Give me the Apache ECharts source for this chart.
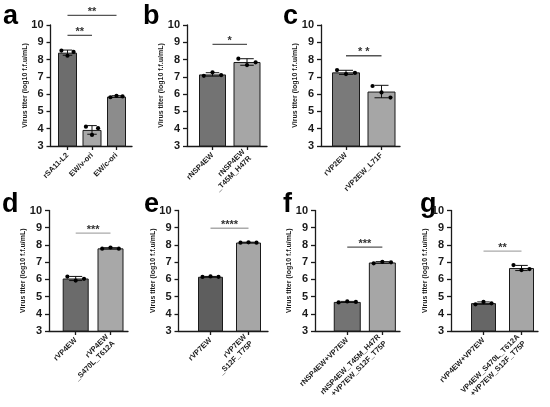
<!DOCTYPE html>
<html><head><meta charset="utf-8">
<script src="https://cdn.jsdelivr.net/npm/echarts/dist/echarts.min.js"></script>
<style>html,body{margin:0;padding:0;background:#fff}#c{width:550px;height:407px}</style>
</head><body><div id="c"></div>
<script>
// ---------- data ----------
const catsA = ['rSA11-L2', 'EW/v-ori', 'EW/c-ori'];
const meanA = [8.40, 3.93, 5.86];
const sdA = [0.15, 0.25, 0.05];
const ptsA = [[8.52, 8.22, 8.44], [4.12, 3.64, 4.03], [5.82, 5.90, 5.87]];
const sigA = [[0, 1, 9.40, '**'], [0, 2, 10.56, '**']];

const catsB = ['rNSP4EW', 'rNSP4EW\n_T45M_H47R'];
const meanB = [7.14, 7.86];
const sdB = [0.10, 0.19];
const ptsB = [[7.06, 7.26, 7.10], [8.05, 7.68, 7.84]];
const sigB = [[0, 1, 8.88, '*']];

const catsC = ['rVP2EW', 'rVP2EW_L71F'];
const meanC = [7.26, 6.15];
const sdC = [0.12, 0.36];
const ptsC = [[7.39, 7.16, 7.23], [6.47, 6.10, 5.80]];
const sigC = [[0, 1, 8.22, '* *']];

const catsD = ['rVP4EW', 'rVP4EW\n_S470L_T612A'];
const meanD = [6.05, 7.80];
const sdD = [0.12, 0.04];
const ptsD = [[6.16, 5.93, 6.03], [7.78, 7.85, 7.78]];
const sigD = [[0, 1, 8.68, '***']];

const catsE = ['rVP7EW', 'rVP7EW\n_S12F_T75P'];
const meanE = [6.15, 8.14];
const sdE = [0.02, 0.02];
const ptsE = [[6.14, 6.17, 6.15], [8.13, 8.15, 8.13]];
const sigE = [[0, 1, 8.97, '****']];

const catsF = ['rNSP4EW+VP7EW', 'rNSP4EW_T45M_H47R\n+VP7EW_S12F_T75P'];
const meanF = [4.69, 6.98];
const sdF = [0.03, 0.05];
const ptsF = [[4.66, 4.72, 4.69], [6.93, 7.02, 6.99]];
const sigF = [[0, 1, 7.87, '***']];

const catsG = ['rVP4EW+VP7EW', 'VP4EW_S470L_T612A\n+VP7EW_S12F_T75P'];
const meanG = [4.62, 6.66];
const sdG = [0.07, 0.15];
const ptsG = [[4.55, 4.69, 4.61], [6.83, 6.54, 6.60]];
const sigG = [[0, 1, 7.64, '**']];

const yTicksMin = 3, yTicksMax = 10, yTickStep = 1;
const yName = 'Virus titer (log10 f.f.u/mL)';

// ---------- layout / style ----------
const FONT = 'Liberation Sans, Arial, sans-serif';
const panels = [
  {L:'a', lx:3,   ly:3.4,   cats:catsA, mean:meanA, sd:sdA, pts:ptsA, sig:sigA, colors:['#6d6d6d','#a8a8a8','#8c8c8c'], sigColor:'#555', axL:50.5, axR:132, inL:55.25, inR:128.75, top:25, bot:146, bw:19},
  {L:'b', lx:143, ly:3.4,   cats:catsB, mean:meanB, sd:sdB, pts:ptsB, sig:sigB, colors:['#737373','#a6a6a6'], sigColor:'#555', axL:187, axR:267, inL:195.25, inR:264.25, top:25, bot:146, bw:27},
  {L:'c', lx:283, ly:3.4,   cats:catsC, mean:meanC, sd:sdC, pts:ptsC, sig:sigC, colors:['#7a7a7a','#a6a6a6'], sigColor:'#555', axL:321, axR:400, inL:328.25, inR:399.25, top:25, bot:146, bw:28},
  {L:'d', lx:2,   ly:191.4, cats:catsD, mean:meanD, sd:sdD, pts:ptsD, sig:sigD, colors:['#6b6b6b','#a8a8a8'], sigColor:'#aaa', axL:49, axR:128, inL:58.3, inR:127.9, top:210.5, bot:331, bw:26},
  {L:'e', lx:144, ly:191.4, cats:catsE, mean:meanE, sd:sdE, pts:ptsE, sig:sigE, colors:['#5e5e5e','#a6a6a6'], sigColor:'#aaa', axL:178.5, axR:268, inL:191.5, inR:267.5, top:210.5, bot:331, bw:25},
  {L:'f', lx:283, ly:191.4, cats:catsF, mean:meanF, sd:sdF, pts:ptsF, sig:sigF, colors:['#737373','#a6a6a6'], sigColor:'#555', axL:315, axR:400, inL:329.7, inR:399.9, top:210.5, bot:331, bw:27},
  {L:'g', lx:420, ly:191.4, cats:catsG, mean:meanG, sd:sdG, pts:ptsG, sig:sigG, colors:['#666666','#a6a6a6'], sigColor:'#aaa', axL:451, axR:538, inL:464.5, inR:540.5, top:210.5, bot:331, bw:25}
];

const grid = [], xAxis = [], yAxis = [], series = [], graphic = [];
const axisColor = '#1a1a1a';

panels.forEach((p, i) => {
  const go = 2 * i, gi = 2 * i + 1;
  grid.push({left:p.axL, top:p.top, width:p.axR - p.axL, height:p.bot - p.top, outerBoundsMode:'none', containLabel:false});
  grid.push({left:p.inL, top:p.top, width:p.inR - p.inL, height:p.bot - p.top, outerBoundsMode:'none', containLabel:false});
  xAxis.push({gridIndex:go, type:'value', min:0, max:1, axisLine:{show:true, lineStyle:{color:axisColor, width:1.3}}, axisTick:{show:false}, axisLabel:{show:false}, splitLine:{show:false}});
  yAxis.push({gridIndex:go, type:'value', min:yTicksMin, max:yTicksMax, interval:yTickStep,
    axisLine:{show:true, lineStyle:{color:axisColor, width:1.3}},
    axisTick:{show:true, length:4, lineStyle:{color:axisColor, width:1.3}},
    axisLabel:{show:true, margin:7, fontSize:11, fontWeight:'bold', color:'#1a1a1a', fontFamily:FONT},
    splitLine:{show:false},
    name:yName, nameLocation:'middle', nameGap:22, nameMoveOverlap:false,
    nameTextStyle:{fontSize:7, fontWeight:'bold', color:'#1a1a1a', fontFamily:FONT}});
  xAxis.push({gridIndex:gi, type:'category', data:p.cats,
    axisLine:{show:false}, axisTick:{show:true, alignWithLabel:true, length:4, lineStyle:{color:axisColor, width:1.3}},
    axisLabel:{interval:0, rotate:45, margin:8, fontSize:7.5, fontWeight:'bold', color:'#1a1a1a', fontFamily:FONT, lineHeight:9},
    splitLine:{show:false}});
  yAxis.push({gridIndex:gi, type:'value', min:yTicksMin, max:yTicksMax, show:false, splitLine:{show:false}});

  series.push({type:'bar', xAxisIndex:gi, yAxisIndex:gi, barWidth:p.bw, z:2, silent:true, animation:false,
    data:p.mean.map((v, k) => ({value:v, itemStyle:{color:p.colors[k]}})),
    itemStyle:{borderColor:'#1a1a1a', borderWidth:1}});

  const bw = p.bw;
  series.push({type:'custom', xAxisIndex:gi, yAxisIndex:gi, z:3, silent:true, animation:false,
    data:p.sd.map((s, k) => [k, p.mean[k] - s, p.mean[k] + s]),
    renderItem:(params, api) => {
      const lo = api.coord([api.value(0), api.value(1)]);
      const hi = api.coord([api.value(0), api.value(2)]);
      const hw = bw * 0.25, x = lo[0];
      const st = {stroke:'#111', lineWidth:1};
      return {type:'group', children:[
        {type:'line', shape:{x1:x, y1:lo[1], x2:x, y2:hi[1]}, style:st},
        {type:'line', shape:{x1:x - hw, y1:hi[1], x2:x + hw, y2:hi[1]}, style:st},
        {type:'line', shape:{x1:x - hw, y1:lo[1], x2:x + hw, y2:lo[1]}, style:st}
      ]};
    }});

  const dots = [];
  p.pts.forEach((arr, k) => arr.forEach((v, j) => dots.push([k, v, j])));
  series.push({type:'custom', xAxisIndex:gi, yAxisIndex:gi, z:4, silent:true, animation:false,
    data:dots,
    renderItem:(params, api) => {
      const c = api.coord([api.value(0), api.value(1)]);
      const off = (api.value(2) - 1) * 0.32 * bw;
      return {type:'circle', shape:{cx:c[0] + off, cy:c[1], r:2.1}, style:{fill:'#000'}};
    }});

  const sigTexts = p.sig.map(s => s[3]);
  const sc = p.sigColor;
  series.push({type:'custom', xAxisIndex:gi, yAxisIndex:gi, z:5, silent:true, animation:false, clip:false,
    data:p.sig.map(s => [s[0], s[1], s[2]]),
    renderItem:(params, api) => {
      const a = api.coord([api.value(0), api.value(2)]);
      const b = api.coord([api.value(1), api.value(2)]);
      return {type:'group', children:[
        {type:'line', shape:{x1:a[0], y1:a[1], x2:b[0], y2:b[1]}, style:{stroke:sc, lineWidth:1.3}},
        {type:'text', x:(a[0] + b[0]) / 2, y:a[1] + 2, style:{text:sigTexts[params.dataIndex], fill:'#333', font:'bold 11px ' + FONT, align:'center', verticalAlign:'bottom'}}
      ]};
    }});

  graphic.push({type:'text', x:p.lx, y:p.ly, style:{text:p.L, fill:'#000', font:'bold 27px ' + FONT, verticalAlign:'top'}});
});

const chart = echarts.init(document.getElementById('c'), null, {renderer:'canvas'});
chart.setOption({animation:false, backgroundColor:'#fff', grid, xAxis, yAxis, series, graphic});
</script>
</body></html>
